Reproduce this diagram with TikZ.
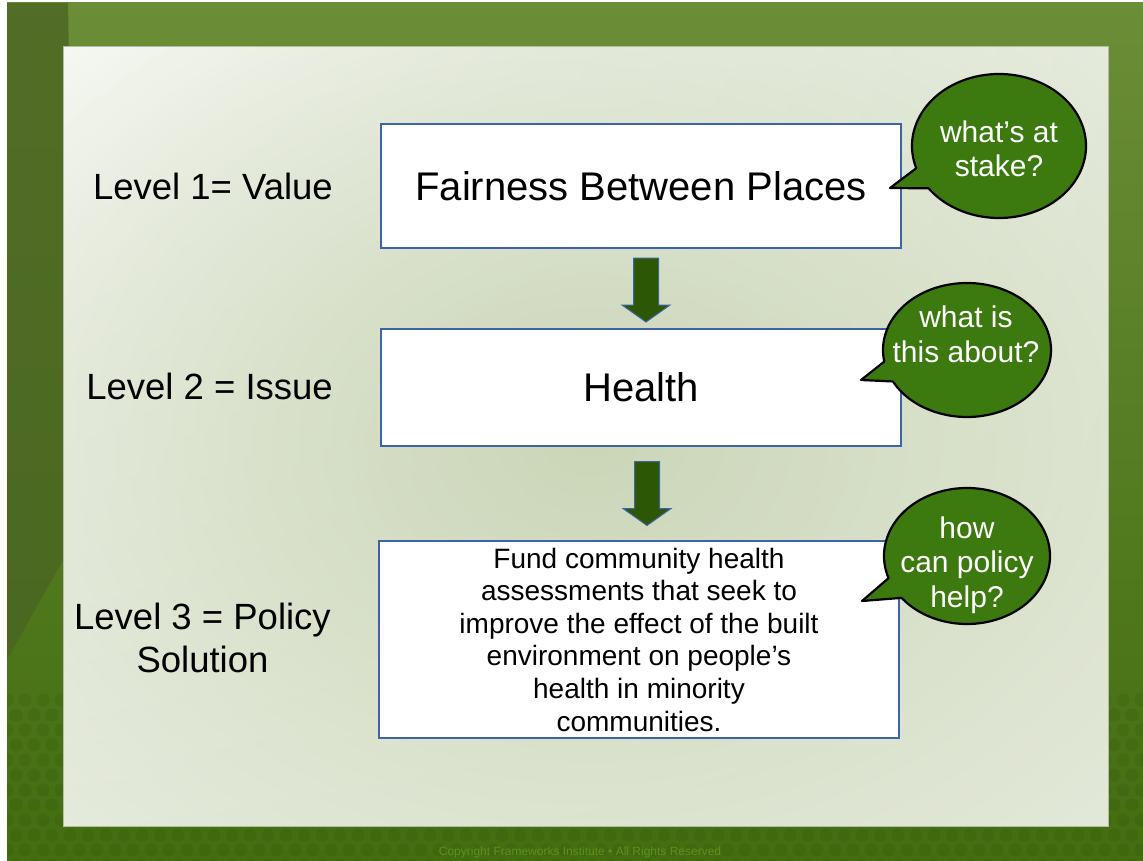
\documentclass[tikz,border=0pt]{standalone}
\usepackage{fontspec}
\setmainfont{Liberation Sans}
\usetikzlibrary{calc,fadings,shadings}

\definecolor{framedark}{HTML}{4B6522}
\definecolor{frametop}{HTML}{6B8D37}
\definecolor{framebot}{HTML}{426E10}
\definecolor{dotgreen}{HTML}{2F520A}
\definecolor{panelmid}{HTML}{CBD6B8}
\definecolor{panelline}{HTML}{B4BDA4}
\definecolor{boxblue}{HTML}{3D63A8}
\definecolor{arrowgreen}{HTML}{2C5806}
\definecolor{bubblegreen}{HTML}{3C790E}
\definecolor{copygreen}{HTML}{5C921D}

\tikzfading[name=glowfade, inner color=transparent!0, outer color=transparent!100]

\tikzset{
  box/.style={draw=boxblue, line width=1.5pt, fill=white, minimum width=520pt, inner sep=0pt, align=center},
  level/.style={anchor=east, inner sep=0pt, align=center, font=\fontsize{36.5}{43}\selectfont},
  bubble/.style={fill=bubblegreen, draw=black, line width=2.2pt, line join=round},
  bubbletext/.style={inner sep=0pt, align=center, text=white, font=\fontsize{30}{34.5}\selectfont},
  arrowbody/.style={fill=arrowgreen, draw=boxblue, line width=1pt},
  downarrow/.pic={\draw[arrowbody] (-12.5,32) -- (12.5,32) -- (12.5,-15) -- (24,-15) -- (0,-32) -- (-24,-15) -- (-12.5,-15) -- cycle;}
}

\begin{document}
\begin{tikzpicture}[x=1pt,y=1pt]
  \useasboundingbox (0,0) rectangle (1143,-861);

  % slide background
  \fill[white] (0,0) rectangle (1143,-861);
  \shade[top color=frametop, bottom color=framebot] (7,-3) rectangle (1143,-861);
  \fill[framedark, opacity=0.8] (7,-3) -- (68,-3) .. controls (72,-200) and (66,-420) .. (63,-560) -- (7,-660) -- cycle;
  \begin{scope}
    \clip (7,-3) rectangle (1143,-861);
    \foreach \r in {0,...,11}
      \foreach \c in {0,...,64}
        \fill[dotgreen, opacity=0.2] ({7+18*\c+9*mod(\r,2)}, {-700-15*\r}) circle[radius=6.5pt];
  \end{scope}

  % light panel
  \shade[upper left=white!90!panelmid, upper right=white!55!panelmid, lower left=white!55!panelmid, lower right=white!50!panelmid]
    (63,-47) rectangle (1108,-826);
  \begin{scope}
    \clip (63,-47) rectangle (1108,-826);
    \fill[panelmid, path fading=glowfade] (-220,160) rectangle (1400,-1040);
  \end{scope}
  \draw[panelline, line width=1pt] (63,-47) rectangle (1108,-826);

  % levels
  \node[level] (lv1) at (333,-186) {Level 1= Value};
  \node[level] (lv2) at (333,-386) {Level 2 = Issue};
  \node[level] (lv3) at (331,-638) {Level 3 = Policy\\Solution};

  % boxes
  \node[box, minimum height=124pt, font=\fontsize{40}{48}\selectfont] (value) at (641,-186) {Fairness Between Places};
  \node[box, minimum height=117pt, font=\fontsize{40}{48}\selectfont] (issue) at (641,-387.5) {Health};
  \node[box, minimum height=197pt, font=\fontsize{28}{32.6}\selectfont] (policy) at (639,-639.5)
    {Fund community health\\assessments that seek to\\improve the effect of the built\\environment on people’s\\health in minority\\communities.};

  % arrows between the boxes
  \pic at ($(value.south)!0.5!(issue.north)+(5,-1.5)$) {downarrow};
  \pic at ($(issue.south)!0.5!(policy.north)+(7,0)$) {downarrow};

  % speech bubbles
  \coordinate (c1) at (999,-146);
  \coordinate (t1) at (890,-188);
  \path[bubble] (t1) -- ($(c1)+(198:87pt and 72pt)$) arc[start angle=198, end angle=-144, x radius=87pt, y radius=72pt] -- cycle;
  \node[bubbletext] (stake) at (999,-149) {what’s at\\stake?};

  \coordinate (c2) at (967,-350);
  \coordinate (t2) at (861,-380);
  \path[bubble] (t2) -- ($(c2)+(190:84pt and 67pt)$) arc[start angle=190, end angle=-152, x radius=84pt, y radius=67pt] -- cycle;
  \node[bubbletext] (about) at (966,-334.5) {what is\\this about?};

  \coordinate (c3) at (967,-556);
  \coordinate (t3) at (862,-601);
  \path[bubble] (t3) -- ($(c3)+(199:83pt and 68pt)$) arc[start angle=199, end angle=-142, x radius=83pt, y radius=68pt] -- cycle;
  \node[bubbletext] (help) at (967,-565) {how\\can policy\\help?};

  % footer
  \node[font=\fontsize{12}{14}\selectfont, text=copygreen] (copy) at (580,-852) {Copyright Frameworks Institute • All Rights Reserved};
\end{tikzpicture}
\end{document}
